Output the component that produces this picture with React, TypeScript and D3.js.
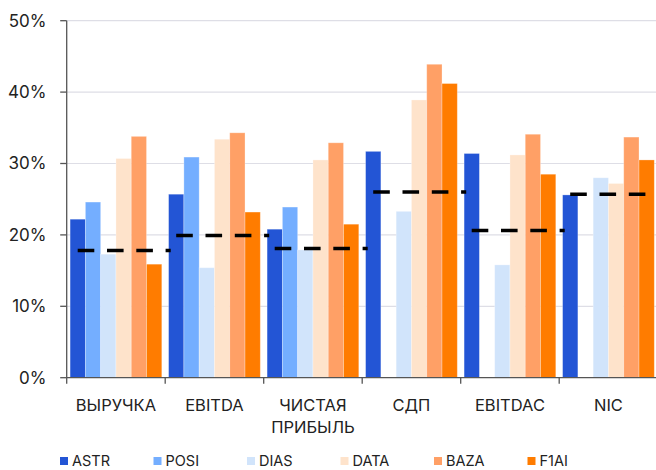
import React from "react";
import * as d3 from "d3";

const categories: string[][] = [
  ["ВЫРУЧКА"],
  ["EBITDA"],
  ["ЧИСТАЯ", "ПРИБЫЛЬ"],
  ["СДП"],
  ["EBITDAC"],
  ["NIC"],
];

const seriesNames = ["ASTR", "POSI", "DIAS", "DATA", "BAZA", "F1AI"];
const seriesColors = ["#2355D5", "#74AEFF", "#D1E4FB", "#FEE3CB", "#FFA066", "#FF7C00"];

// Margins in percent per metric; null where a company does not report it
const astr = [22.2, 25.7, 20.8, 31.7, 31.4, 25.6];
const posi: (number | null)[] = [24.6, 30.9, 23.9, null, null, null];
const dias = [17.3, 15.4, 17.9, 23.3, 15.8, 28.0];
const data = [30.7, 33.4, 30.5, 38.9, 31.2, 27.2];
const baza = [33.8, 34.3, 32.9, 43.9, 34.1, 33.7];
const f1ai = [15.9, 23.2, 21.5, 41.2, 28.5, 30.5];

// Sector average per metric (dashed line)
const average = [17.8, 19.9, 18.1, 26.0, 20.6, 25.7];

const yTicks = [0, 10, 20, 30, 40, 50];

const W = 656;
const H = 470;

export default function App() {
  const series = [astr, posi, dias, data, baza, f1ai];
  const left = 66.7;
  const step = 98.5;
  const x = d3
    .scaleBand<number>()
    .domain(categories.map((_, i) => i))
    .range([left, left + step * categories.length])
    .padding(0);
  const xs = d3
    .scaleBand<number>()
    .domain(seriesNames.map((_, i) => i))
    .range([3.4, step - 3.4])
    .padding(0);
  const y = d3.scaleLinear().domain([0, 50]).range([377.7, 20.7]);

  const font = "Inter, 'Open Sans', sans-serif";
  const textColor = "#222";

  return (
    <svg
      width={W}
      height={H}
      style={{ position: "absolute", left: 0, top: 0, background: "#fff" }}
      fontFamily={font}
    >
      {/* gridlines */}
      {yTicks.slice(1).map((t) => (
        <line key={"g" + t} x1={left} x2={W} y1={y(t)} y2={y(t)} stroke="#DEDEE6" strokeWidth={1.2} />
      ))}

      {/* bars */}
      {categories.map((_, ci) =>
        series.map((s, si) => {
          const v = s[ci];
          if (v == null) return null;
          const bx = (x(ci) as number) + (xs(si) as number);
          return (
            <rect
              key={ci + "-" + si}
              x={bx}
              y={y(v)}
              width={xs.bandwidth()}
              height={y(0) - y(v)}
              fill={seriesColors[si]}
              stroke="#fff"
              strokeOpacity={0.35}
              strokeWidth={0.8}
            />
          );
        })
      )}

      {/* average lines */}
      {average.map((v, ci) => {
        const x0 = (x(ci) as number) + 11;
        return (
          <line
            key={"a" + ci}
            x1={x0}
            x2={x0 + 93}
            y1={y(v)}
            y2={y(v)}
            stroke="#000"
            strokeWidth={3.5}
            strokeDasharray="16.6 12.7"
          />
        );
      })}

      {/* y axis */}
      <line x1={left} x2={left} y1={y(50)} y2={y(0)} stroke="#555" strokeWidth={1.3} />
      {yTicks.map((t) => (
        <g key={"yt" + t}>
          <line x1={left - 6.5} x2={left} y1={y(t)} y2={y(t)} stroke="#555" strokeWidth={1.3} />
          <text x={46.5} y={y(t)} dy="0.35em" textAnchor="end" fontSize={17} fill={textColor}>
            {t + "%"}
          </text>
        </g>
      ))}

      {/* x axis */}
      <line x1={left} x2={W} y1={y(0)} y2={y(0)} stroke="#555" strokeWidth={1.3} />
      {categories.map((_, ci) => (
        <line
          key={"xt" + ci}
          x1={x(ci) as number}
          x2={x(ci) as number}
          y1={y(0)}
          y2={y(0) + 6}
          stroke="#555"
          strokeWidth={1.3}
        />
      ))}
      {categories.map((lines, ci) => (
        <text
          key={"xl" + ci}
          x={(x(ci) as number) + step / 2}
          y={411}
          textAnchor="middle"
          fontSize={16.5}
          fill={textColor}
        >
          {lines.map((l, li) => (
            <tspan key={li} x={(x(ci) as number) + step / 2} dy={li === 0 ? 0 : 22}>
              {l}
            </tspan>
          ))}
        </text>
      ))}

      {/* legend */}
      {seriesNames.map((n, i) => {
        const lx = 60 + i * 93.5;
        return (
          <g key={"lg" + i}>
            <rect x={lx} y={457} width={8} height={8} fill={seriesColors[i]} />
            <text x={lx + 12} y={466} fontSize={14.5} fill={textColor}>
              {n}
            </text>
          </g>
        );
      })}
    </svg>
  );
}
